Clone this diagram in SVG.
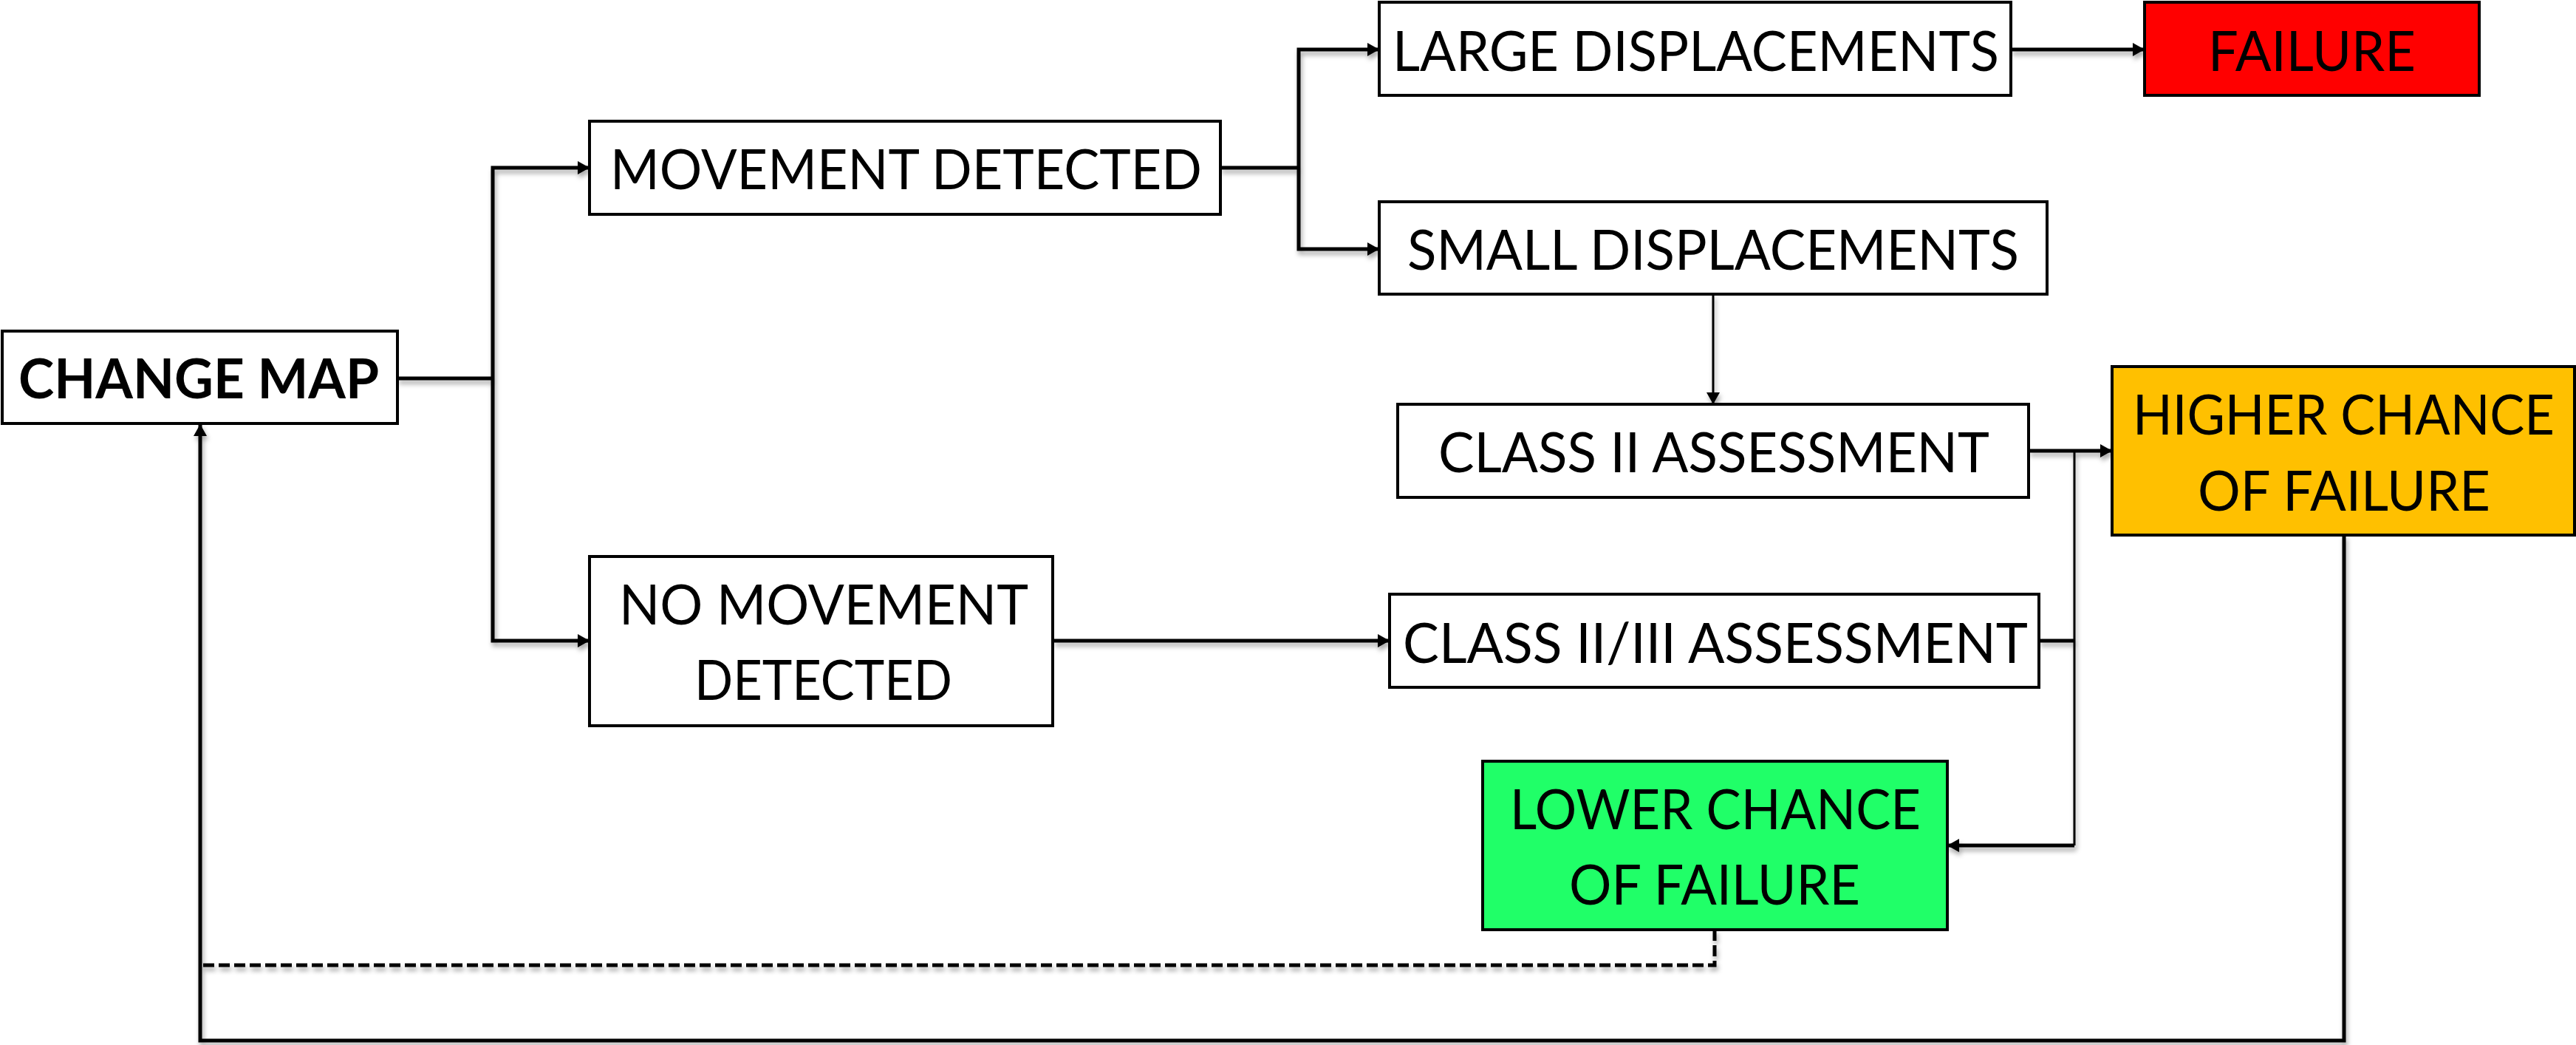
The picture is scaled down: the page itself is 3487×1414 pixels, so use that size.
<svg xmlns="http://www.w3.org/2000/svg" width="3487" height="1414" viewBox="0 0 3487 1414">
  <defs>
    <style>
      .box { stroke: #000; stroke-width: 4; }
      .plain { fill: #fff; }
      .red { fill: #ff0000; }
      .amber { fill: #ffc000; }
      .green { fill: #20ff68; }
      .lbl { font-family: Lato, "Liberation Sans", sans-serif; font-size: 75px; fill: #000; }
      .bold { font-weight: bold; }
      .wire { fill: none; stroke: #000; stroke-width: 5; stroke-linejoin: miter; }
      .thin { stroke-width: 3; }
      .dash { stroke-dasharray: 15 6; }
    </style>
    <filter id="shadow" x="-5%" y="-20%" width="110%" height="140%">
      <feDropShadow dx="2" dy="5" stdDeviation="3" flood-color="#000" flood-opacity="0.35"/>
    </filter>
    <marker id="arrow" markerUnits="userSpaceOnUse" markerWidth="16" markerHeight="18" refX="16" refY="9" orient="auto">
      <path d="M0,0 L16,9 L0,18 z" fill="#000"/>
    </marker>
  </defs>

  <!-- connectors -->
  <g id="connectors" filter="url(#shadow)">
    <path class="wire" d="M538,512 H667"/>
    <path class="wire" d="M667,512 V227 H798" marker-end="url(#arrow)"/>
    <path class="wire" d="M667,512 V867 H798" marker-end="url(#arrow)"/>
    <path class="wire" d="M1652,227 H1758"/>
    <path class="wire" d="M1758,227 V67 H1867" marker-end="url(#arrow)"/>
    <path class="wire" d="M1758,227 V337 H1867" marker-end="url(#arrow)"/>
    <path class="wire" d="M2722,67 H2903" marker-end="url(#arrow)"/>
    <path class="wire thin" d="M2319,398 V547" marker-end="url(#arrow)"/>
    <path class="wire" d="M2746,610 H2859" marker-end="url(#arrow)"/>
    <path class="wire" d="M2760,867 H2808"/>
    <path class="wire thin" d="M2808,610 V1144"/>
    <path class="wire" d="M2808,1144 H2636" marker-end="url(#arrow)"/>
    <path class="wire" d="M1426,867 H1881" marker-end="url(#arrow)"/>
    <path class="wire" d="M3173,724 V1408 H271 V574" marker-end="url(#arrow)"/>
    <path class="wire dash" d="M2321,1258 V1306 H271"/>
  </g>

  <!-- nodes -->
  <g id="change-map">
    <rect class="box plain" x="3" y="448" width="535" height="125"/>
    <text class="lbl bold" x="25" y="539" textLength="488" lengthAdjust="spacingAndGlyphs">CHANGE MAP</text>
  </g>
  <g id="movement-detected">
    <rect class="box plain" x="798" y="164" width="854" height="126"/>
    <text class="lbl" x="826" y="256" textLength="801" lengthAdjust="spacingAndGlyphs">MOVEMENT DETECTED</text>
  </g>
  <g id="large-displacements">
    <rect class="box plain" x="1867" y="3" width="855" height="126"/>
    <text class="lbl" x="1885" y="96" textLength="821" lengthAdjust="spacingAndGlyphs">LARGE DISPLACEMENTS</text>
  </g>
  <g id="failure">
    <rect class="box red" x="2903" y="3" width="453" height="126"/>
    <text class="lbl" x="2989" y="96" textLength="281" lengthAdjust="spacingAndGlyphs">FAILURE</text>
  </g>
  <g id="small-displacements">
    <rect class="box plain" x="1867" y="273" width="904" height="125"/>
    <text class="lbl" x="1905" y="365" textLength="828" lengthAdjust="spacingAndGlyphs">SMALL DISPLACEMENTS</text>
  </g>
  <g id="class-ii-assessment">
    <rect class="box plain" x="1892" y="547" width="854" height="126"/>
    <text class="lbl" x="1947" y="639" textLength="746" lengthAdjust="spacingAndGlyphs">CLASS II ASSESSMENT</text>
  </g>
  <g id="higher-chance">
    <rect class="box amber" x="2859" y="496" width="626" height="228"/>
    <text class="lbl" x="2887" y="588" textLength="571" lengthAdjust="spacingAndGlyphs">HIGHER CHANCE</text>
    <text class="lbl" x="2975" y="691" textLength="396" lengthAdjust="spacingAndGlyphs">OF FAILURE</text>
  </g>
  <g id="no-movement-detected">
    <rect class="box plain" x="798" y="753" width="627" height="229"/>
    <text class="lbl" x="838" y="845" textLength="554" lengthAdjust="spacingAndGlyphs">NO MOVEMENT</text>
    <text class="lbl" x="940" y="947" textLength="349" lengthAdjust="spacingAndGlyphs">DETECTED</text>
  </g>
  <g id="class-ii-iii-assessment">
    <rect class="box plain" x="1881" y="804" width="879" height="126"/>
    <text class="lbl" x="1899" y="897" textLength="846" lengthAdjust="spacingAndGlyphs">CLASS II/III ASSESSMENT</text>
  </g>
  <g id="lower-chance">
    <rect class="box green" x="2007" y="1030" width="629" height="228"/>
    <text class="lbl" x="2044" y="1122" textLength="556" lengthAdjust="spacingAndGlyphs">LOWER CHANCE</text>
    <text class="lbl" x="2124" y="1224" textLength="394" lengthAdjust="spacingAndGlyphs">OF FAILURE</text>
  </g>
</svg>
